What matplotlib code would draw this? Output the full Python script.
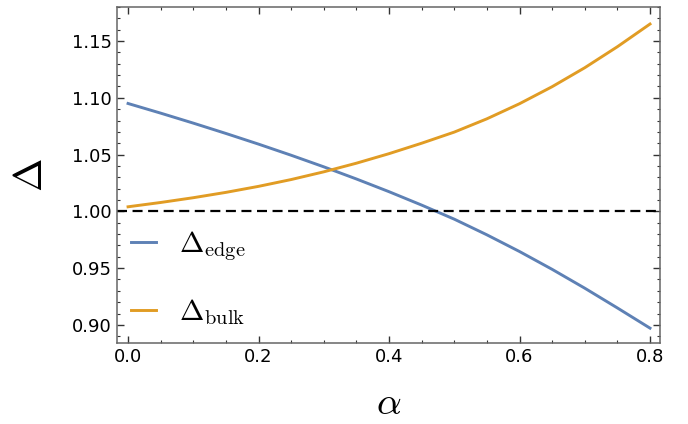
import numpy as np
import matplotlib
matplotlib.use('Agg')
import matplotlib.pyplot as plt
from matplotlib.ticker import MultipleLocator

plt.rcParams['mathtext.fontset'] = 'cm'

alpha = [0.0, 0.05, 0.1, 0.15, 0.2, 0.25, 0.3, 0.35, 0.4,
         0.45, 0.5, 0.55, 0.6, 0.65, 0.7, 0.75, 0.8]
delta_edge = [1.095, 1.0865, 1.0777, 1.0686, 1.0592, 1.0494, 1.0392, 1.0285, 1.0173,
              1.0055, 0.9931, 0.9793, 0.9646, 0.9489, 0.9323, 0.9149, 0.8971]
delta_bulk = [1.004, 1.0078, 1.012, 1.0167, 1.022, 1.028, 1.0348, 1.0424, 1.0508,
              1.060, 1.0698, 1.0815, 1.0948, 1.1098, 1.1265, 1.145, 1.165]

fig = plt.figure(figsize=(6.88, 4.24), dpi=100)
ax = fig.add_axes([0.170, 0.191, 0.789, 0.7925])

ax.plot(alpha, delta_edge, color='#5E81B5', lw=2.1, label=r'$\Delta_{\rm edge}$')
ax.plot(alpha, delta_bulk, color='#E19C24', lw=2.1, label=r'$\Delta_{\rm bulk}$')
ax.axhline(1.0, color='black', lw=1.6, ls=(0, (4.5, 2.5)))

ax.set_xlim(-0.017, 0.815)
ax.set_ylim(0.884, 1.18)
ax.xaxis.set_major_locator(MultipleLocator(0.2))
ax.xaxis.set_minor_locator(MultipleLocator(0.05))
ax.yaxis.set_major_locator(MultipleLocator(0.05))
ax.yaxis.set_minor_locator(MultipleLocator(0.01))
ax.tick_params(which='both', direction='in', top=True, right=True,
               colors='#333333', labelcolor='black', labelsize=13)
ax.tick_params(which='major', length=5, width=1)
ax.tick_params(which='minor', length=2.5, width=0.8)
for s in ax.spines.values():
    s.set_color('#666666')
    s.set_linewidth(1.1)

ax.set_xlabel(r'$\alpha$', fontsize=28, va='baseline')
ax.set_ylabel(r'$\Delta$', fontsize=29)
ax.xaxis.set_label_coords(0.5, -0.212)
ax.yaxis.set_label_coords(-0.121, 0.5)

ax.legend(loc='lower left', bbox_to_anchor=(-0.023, -0.03), frameon=False,
          fontsize=21, handlelength=0.85, labelspacing=1.15, handletextpad=0.8)

fig.savefig('out.png', dpi=100)
